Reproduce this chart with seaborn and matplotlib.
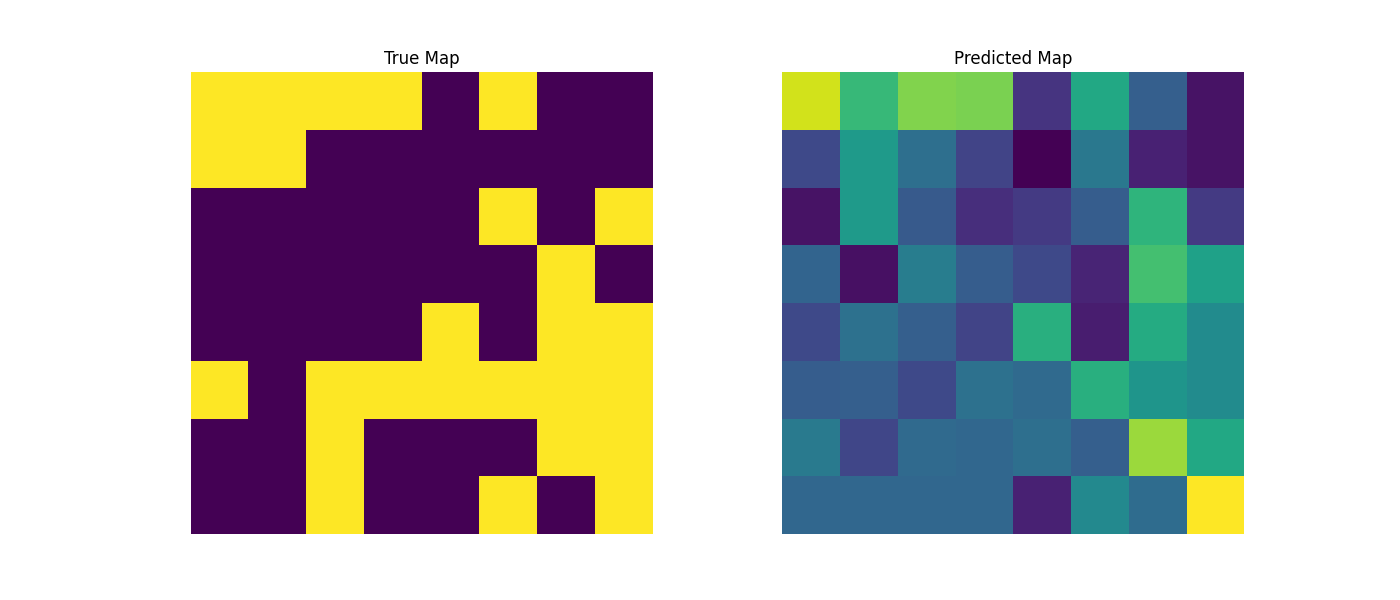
import numpy as np
import seaborn as sns
from matplotlib import pyplot as plt

# binary ground truth map
true_map = [
    [1, 1, 1, 1, 0, 1, 0, 0],
    [1, 1, 0, 0, 0, 0, 0, 0],
    [0, 0, 0, 0, 0, 1, 0, 1],
    [0, 0, 0, 0, 0, 0, 1, 0],
    [0, 0, 0, 0, 1, 0, 1, 1],
    [1, 0, 1, 1, 1, 1, 1, 1],
    [0, 0, 1, 0, 0, 0, 1, 1],
    [0, 0, 1, 0, 0, 1, 0, 1],
]

# predicted probabilities
pred_map = [
    [0.93, 0.67, 0.81, 0.80, 0.15, 0.60, 0.30, 0.05],
    [0.22, 0.54, 0.36, 0.20, 0.00, 0.40, 0.09, 0.05],
    [0.05, 0.54, 0.28, 0.13, 0.17, 0.29, 0.65, 0.17],
    [0.32, 0.04, 0.42, 0.29, 0.22, 0.10, 0.70, 0.57],
    [0.22, 0.37, 0.30, 0.20, 0.63, 0.08, 0.61, 0.48],
    [0.29, 0.30, 0.22, 0.37, 0.34, 0.63, 0.52, 0.48],
    [0.41, 0.21, 0.34, 0.33, 0.36, 0.30, 0.85, 0.60],
    [0.33, 0.33, 0.33, 0.33, 0.09, 0.47, 0.35, 1.00],
]

fig, axes = plt.subplots(1, 2, figsize=(14, 6))

sns.heatmap(np.array(true_map), cmap="viridis", cbar=False, square=True, ax=axes[0])
axes[0].set_title("True Map")
axes[0].axis("off")

sns.heatmap(np.array(pred_map), cmap="viridis", cbar=False, square=True, ax=axes[1])
axes[1].set_title("Predicted Map")
axes[1].axis("off")

plt.savefig("out.png", dpi=100)
